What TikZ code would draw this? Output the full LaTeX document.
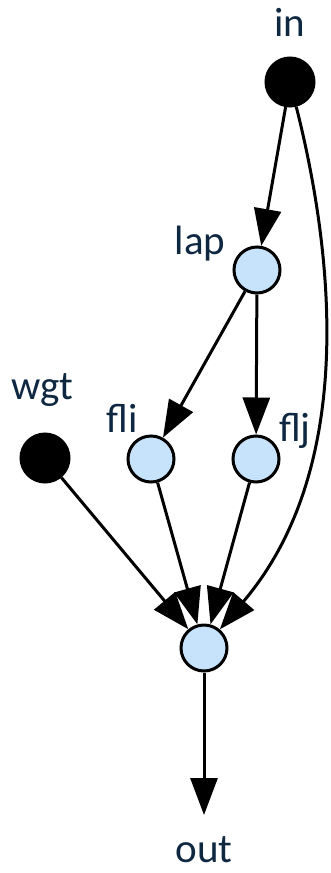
\documentclass[tikz,border=0pt]{standalone}
\usepackage{fontspec}
\setmainfont{Carlito}
\usetikzlibrary{arrows.meta}
\definecolor{txt}{RGB}{14,40,65}
\definecolor{nfill}{RGB}{199,227,252}
\tikzset{
  src/.style={circle, draw=black, fill=black, line width=3pt, minimum size=48pt, inner sep=0pt},
  op/.style={circle, draw=black, fill=nfill, line width=3pt, minimum size=46pt, inner sep=0pt},
  lbl/.style={text=txt, font=\fontsize{41}{44}\selectfont, inner sep=0pt, text depth=0pt},
  edge/.style={line width=3pt, -{Triangle[length=37pt,width=27pt]}},
}
\begin{document}
\begin{tikzpicture}[x=1pt,y=-1pt]
\useasboundingbox (0,0) rectangle (331,873);
\node[src] (in) at (290,82) {};
\node[op] (lap) at (257,270) {};
\node[src] (wgt) at (45,458) {};
\node[op] (fli) at (151,459) {};
\node[op] (flj) at (256,459) {};
\node[op] (out) at (204,648) {};
\coordinate (outend) at (204,815);

\node[lbl] (inl) at (290,22) {in};
\node[lbl] (lapl) at (200,240) {lap};
\node[lbl] (wgtl) at (42,387) {wgt};
\node[lbl] (flil) at (122,418) {fli};
\node[lbl] (fljl) at (295,427) {flj};
\node[lbl] (outl) at (204,850) {out};

\draw[edge] (in) -- (lap);
\draw[edge] (lap) -- (fli);
\draw[edge] (lap) -- (flj);
\draw[edge] (wgt) -- (out);
\draw[edge] (fli) -- (out);
\draw[edge] (flj) -- (out);
\draw[edge] (in) .. controls (335,260) and (355,470) .. (out);
\draw[edge] (out) -- (outend);
\end{tikzpicture}
\end{document}
